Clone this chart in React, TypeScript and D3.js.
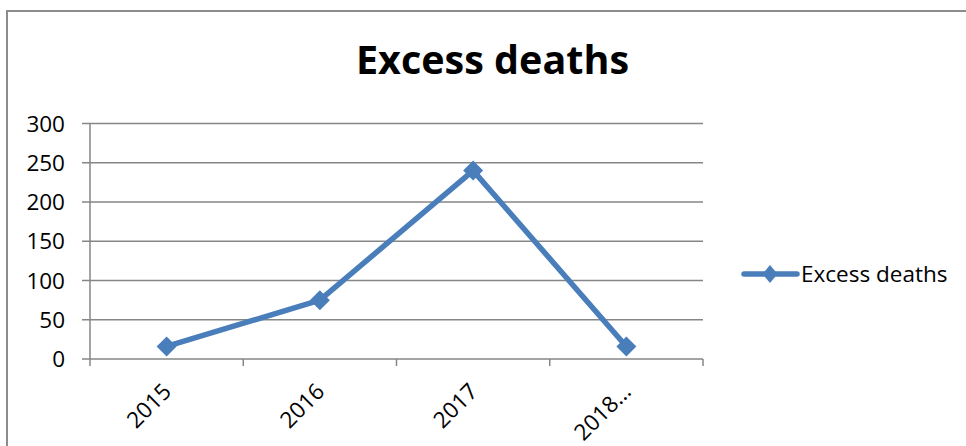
import React from "react";
import * as d3 from "d3";

const categories = ["2015", "2016", "2017", "2018…"];
const excessDeaths = [16, 75, 240, 16];
const yTicks = [0, 50, 100, 150, 200, 250, 300];
const seriesName = "Excess deaths";
const chartTitle = "Excess deaths";

const W = 966;
const H = 446;
const plot = { left: 90, right: 703, top: 123.5, bottom: 359 };
const BLUE = "#4a7ebb";
const GRID = "#868686";
const FONT = "'Open Sans', 'Liberation Sans', sans-serif";

function diamond(cx: number, cy: number, rx: number, ry: number = rx) {
  return `M${cx},${cy - ry}L${cx + rx},${cy}L${cx},${cy + ry}L${cx - rx},${cy}Z`;
}

export default function App() {
  const x = d3
    .scaleBand<string>()
    .domain(categories)
    .range([plot.left, plot.right])
    .paddingInner(0)
    .paddingOuter(0);
  const y = d3.scaleLinear().domain([0, 300]).range([plot.bottom, plot.top]);

  const cx = (c: string) => (x(c) as number) + x.bandwidth() / 2;
  const pts: [number, number][] = categories.map((c, i) => [cx(c), y(excessDeaths[i])]);
  const line = d3.line<[number, number]>()(pts) as string;

  const boundaries = categories.map((c) => x(c) as number).concat([plot.right]);

  return (
    <svg
      width={W}
      height={H}
      style={{ position: "absolute", left: 0, top: 0, background: "#fff" }}
      fontFamily={FONT}
    >
      {/* chart frame */}
      <path d={`M7,${H}V11H${W}`} fill="none" stroke="#8c8c8c" strokeWidth={2} />

      <text x={492.5} y={74} textAnchor="middle" fontSize={39.5} fontWeight={700} fill="#000">
        {chartTitle}
      </text>

      {/* horizontal gridlines with left tick marks */}
      {yTicks.map((t) => (
        <g key={t}>
          <line x1={plot.left - 8} x2={plot.right} y1={y(t)} y2={y(t)} stroke={GRID} strokeWidth={1.5} />
          <text x={65} y={y(t)} dy="0.36em" textAnchor="end" fontSize={22.5} fill="#000">
            {t}
          </text>
        </g>
      ))}

      {/* value axis */}
      <line x1={plot.left} x2={plot.left} y1={plot.top} y2={plot.bottom} stroke={GRID} strokeWidth={1.5} />

      {/* category ticks */}
      {boundaries.map((b, i) => (
        <line key={i} x1={b} x2={b} y1={plot.bottom} y2={plot.bottom + 7} stroke={GRID} strokeWidth={1.5} />
      ))}

      {categories.map((c) => (
        <text
          key={c}
          transform={`translate(${cx(c) + 6},${plot.bottom + 34}) rotate(-45)`}
          textAnchor="end"
          fontSize={22.5}
          fill="#000"
        >
          {c}
        </text>
      ))}

      {/* series */}
      <path d={line} fill="none" stroke={BLUE} strokeWidth={5.5} strokeLinejoin="round" />
      {pts.map(([px, py], i) => (
        <path key={i} d={diamond(px, py, 10)} fill={BLUE} />
      ))}

      {/* legend */}
      <line x1={744} x2={797} y1={274} y2={274} stroke={BLUE} strokeWidth={5.5} strokeLinecap="round" />
      <path d={diamond(770, 274, 7.5, 9)} fill={BLUE} />
      <text x={801} y={274} dy="0.36em" fontSize={22.5} fill="#000">
        {seriesName}
      </text>
    </svg>
  );
}
